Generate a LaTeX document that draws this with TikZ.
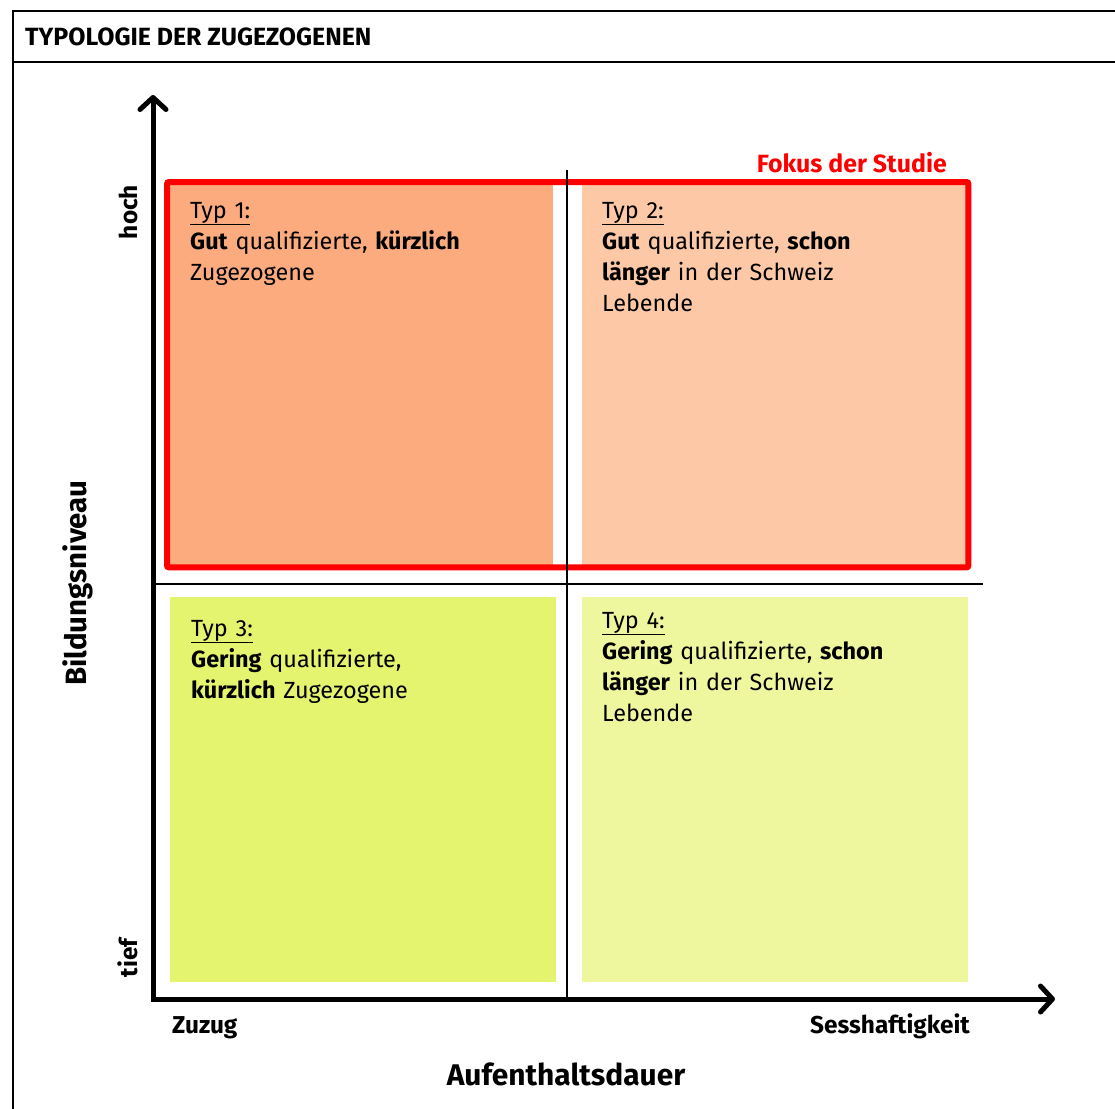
\documentclass[tikz,border=0pt]{standalone}
\usepackage{fontspec}
\setmainfont{Fira Sans}
\usetikzlibrary{arrows.meta,positioning}
\definecolor{typeins}{RGB}{251,171,125}
\definecolor{typzwei}{RGB}{252,200,166}
\definecolor{typdrei}{RGB}{229,244,110}
\definecolor{typvier}{RGB}{238,247,158}

\begin{document}
\begin{tikzpicture}[x=1bp, y=-1bp,
  quadrant/.style={inner sep=0, minimum width=386bp, minimum height=385bp, anchor=north west},
  typtext/.style={anchor=base west, align=left, text width=360bp, inner sep=0,
    font=\fontsize{23.5}{31.3}\selectfont},
  axis/.style={line width=5bp, line join=miter,
    {Straight Barb[length=12bp, width=26bp, line cap=round, line join=round]}-{Straight Barb[length=12bp, width=26bp, line cap=round, line join=round]}},
  guide/.style={line width=1.5bp},
  focus/.style={draw=red, line width=6bp, rounded corners=2bp},
  lab/.style={inner sep=0, font=\bfseries\fontsize{24.5}{28}\selectfont}
]
\useasboundingbox (0,0) rectangle (1115,1109);

% frame and title bar
\draw[line width=2bp] (13,1120) |- (1125,11);
\draw[line width=2bp] (13,62) -- (1125,62);
\node[lab, anchor=base west, font=\bfseries\fontsize{25}{28}\selectfont] (title) at (25,45) {TYPOLOGIE DER ZUGEZOGENEN};

% the four types
\node[quadrant, fill=typeins] (q1) at (167,182) {};
\node[quadrant, fill=typzwei] (q2) at (582,182) {};
\node[quadrant, fill=typdrei] (q3) at (170,597) {};
\node[quadrant, fill=typvier] (q4) at (582,597) {};

\draw[focus] (q1.north west) rectangle (q2.south east);
\node[lab, text=red, anchor=base east, font=\bfseries\fontsize{25}{28}\selectfont] (fokus) at (947,172) {Fokus der Studie};

% guide lines between the quadrants
\coordinate (vtop) at (567,170);
\coordinate (vbot) at (567,998);
\coordinate (hleft) at (153,584);
\coordinate (hright) at (983,584);
\draw[guide] (vtop) -- (vbot);
\draw[guide] (hleft) -- (hright);

\node[typtext] (t1) at (190,218) {\underline{Typ 1:}\\
  \textbf{Gut} qualifizierte, \textbf{kürzlich}\\ Zugezogene};
\node[typtext] (t2) at (602,218) {\underline{Typ 2:}\\
  \textbf{Gut} qualifizierte, \textbf{schon}\\ \textbf{länger} in der Schweiz\\ Lebende};
\node[typtext] (t3) at (191,636) {\underline{Typ 3:}\\
  \textbf{Gering} qualifizierte,\\ \textbf{kürzlich} Zugezogene};
\node[typtext] (t4) at (602,628) {\underline{Typ 4:}\\
  \textbf{Gering} qualifizierte, \textbf{schon}\\ \textbf{länger} in der Schweiz\\ Lebende};

% axes
\coordinate (origin) at (153,999);
\coordinate (ytip) at (153,95);
\coordinate (xtip) at (1055,999);
\draw[axis] (ytip) -- (origin) -- (xtip);

\node[lab, rotate=90] (hoch) at (128,212) {hoch};
\node[lab, rotate=90] (tief) at (128,958) {tief};
\node[lab, rotate=90, font=\bfseries\fontsize{29.5}{33}\selectfont] (ylab) at (78,583) {Bildungsniveau};
\node[lab, anchor=base west] (zuzug) at (172,1033) {Zuzug};
\node[lab, anchor=base east] (sess) at (970,1033) {Sesshaftigkeit};
\node[lab, anchor=base, font=\bfseries\fontsize{30}{34}\selectfont] (xlab) at (566,1085) {Aufenthaltsdauer};
\end{tikzpicture}
\end{document}
